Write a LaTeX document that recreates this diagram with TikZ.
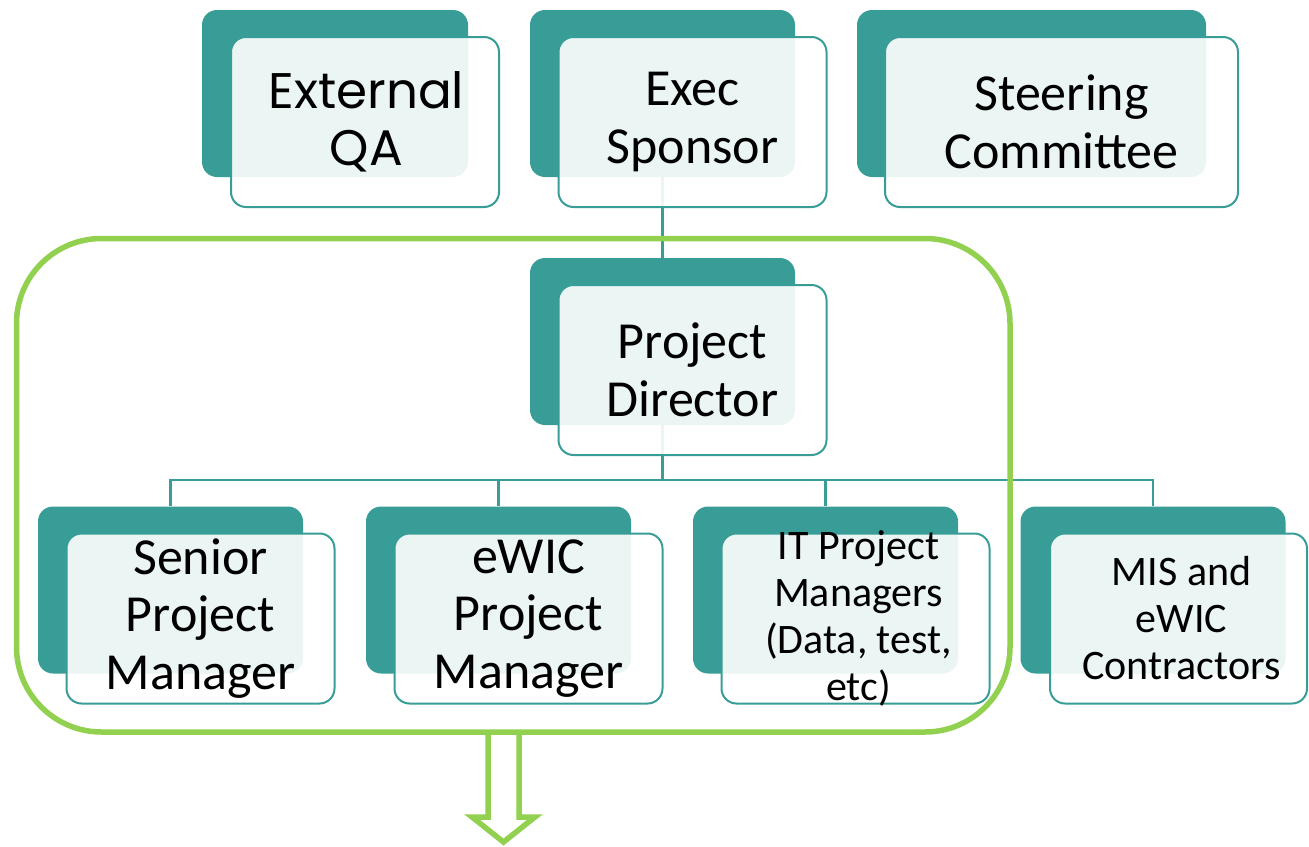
\documentclass[tikz,border=0pt]{standalone}
\usepackage{fontspec}
\setmainfont{Carlito}
\newfontfamily\qafont{Poppins}
\definecolor{orgteal}{RGB}{56,157,150}
\definecolor{orggreen}{RGB}{146,208,80}
\begin{document}
\begin{tikzpicture}[x=1pt,y=-1pt,
    back/.style={fill=orgteal,rounded corners=15pt,minimum width=265pt,minimum height=167pt,inner sep=0pt},
    front/.style={draw=orgteal,line width=2pt,fill=white,fill opacity=0.9,rounded corners=15pt,minimum width=268pt,minimum height=170pt,inner sep=0pt},
    big/.style={align=center,font=\fontsize{52}{57.5}\selectfont,inner sep=0pt},
    small/.style={align=center,font=\fontsize{42}{47}\selectfont,inner sep=0pt},
    link/.style={draw=orgteal,line width=2.5pt},
    frame/.style={draw=orggreen,line width=5.5pt,rounded corners=85pt}]
    \useasboundingbox (0,0) rectangle (1309,846);
    % dark back plates
    \node[back,minimum width=266pt] (qaback) at (335,93.5) {};
    \node[back] (exback) at (662.5,93.5) {};
    \node[back,minimum width=349pt] (stback) at (1031.5,93.5) {};
    \node[back] (pdback) at (662.5,341.5) {};
    \node[back] (spmback) at (170.5,590) {};
    \node[back] (ewback) at (498.5,590) {};
    \node[back] (itback) at (825.5,590) {};
    \node[back] (misback) at (1153,590) {};
    % reporting lines
    \coordinate (bus) at (662.5,480);
    \draw[link] (exback.south) -- (pdback.north);
    \draw[link] (pdback.south) -- (bus);
    \draw[link] (bus) -| (spmback.north);
    \draw[link] (bus) -| (ewback.north);
    \draw[link] (bus) -| (itback.north);
    \draw[link] (bus) -| (misback.north);
    % light front cards
    \node[front] (qa) at ([shift={(30,28.5)}]qaback) {};
    \node[front] (ex) at ([shift={(30,28.5)}]exback) {};
    \node[front,minimum width=353pt] (st) at ([shift={(30,28.5)}]stback) {};
    \node[front] (pd) at ([shift={(30,28.5)}]pdback) {};
    \node[front] (spm) at ([shift={(30,28.5)}]spmback) {};
    \node[front] (ew) at ([shift={(30,28.5)}]ewback) {};
    \node[front] (it) at ([shift={(30,28.5)}]itback) {};
    \node[front,minimum width=257pt] (mis) at ([shift={(25.5,28.5)}]misback) {};
    % labels
    \node[big,font=\qafont\fontsize{50}{57}\selectfont] (qatext) at ([xshift=1.5pt]qa) {External\\QA};
    \node[big] (extext) at (ex) {Exec\\Sponsor};
    \node[big] (sttext) at (st) {Steering\\Committee};
    \node[big] (pdtext) at (pd) {Project\\Director};
    \node[big] (spmtext) at (spm) {Senior\\Project\\Manager};
    \node[big] (ewtext) at (ew) {eWIC\\Project\\Manager};
    \node[small] (ittext) at ([xshift=3pt]it) {IT Project\\Managers\\(Data, test,\\etc)};
    \node[small] (mistext) at ([xshift=3pt]mis) {MIS and\\eWIC\\Contractors};
    % team frame and outlet arrow
    \draw[frame] (16.5,238.5) rectangle (1010,732);
    \draw[draw=orggreen,line width=5.5pt,line join=miter]
        (488,732) -- (488,817) -- (472,817) -- (503.5,842) -- (535,817) -- (519,817) -- (519,732);
\end{tikzpicture}
\end{document}
